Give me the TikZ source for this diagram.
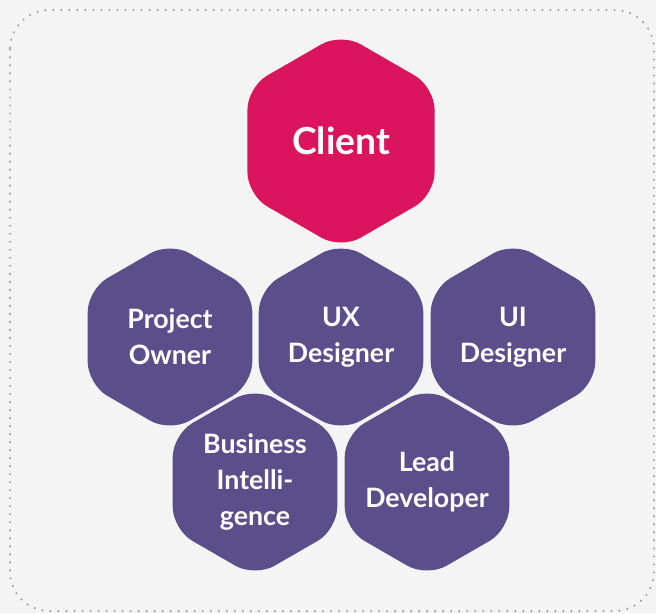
\documentclass[tikz,border=0pt]{standalone}
\usepackage{fontspec}
\setmainfont{Lato}
\usetikzlibrary{shapes.geometric}
\definecolor{clientred}{RGB}{218,21,94}
\definecolor{teampurple}{RGB}{92,78,138}
\definecolor{panelgray}{RGB}{244,244,244}
\definecolor{dotgray}{RGB}{160,160,160}

\tikzset{
  hexa/.style={regular polygon, regular polygon sides=6, shape border rotate=30,
    rounded corners=16pt, inner sep=-8pt, text=white, align=center,
    font=\bfseries\fontsize{19}{25.6}\selectfont, minimum size=4.75cm},
  client/.style={hexa, fill=clientred, minimum size=5.4cm,
    font=\bfseries\fontsize{26.5}{30}\selectfont},
  role/.style={hexa, fill=teampurple}
}

\begin{document}
\begin{tikzpicture}[x=0.025cm, y=-0.025cm]
  \fill[panelgray] (0,0) rectangle (656,613);
  \draw[dotgray, line width=1.7pt, line cap=round, dash pattern=on 0pt off 5.7pt,
    rounded corners=28pt] (10,10) rectangle (654,611);

  \node[client] (client) at (341,141) {Client};

  \node[role] (owner) at (170,337) {Project\\Owner};
  \node[role] (ux) at (341,337) {UX\\Designer};
  \node[role] (ui) at (513,337) {UI\\Designer};

  \node[role] (bi) at (255,482) {Business\\Intelli-\\gence};
  \node[role] (lead) at (427,482) {Lead\\Developer};
\end{tikzpicture}
\end{document}
